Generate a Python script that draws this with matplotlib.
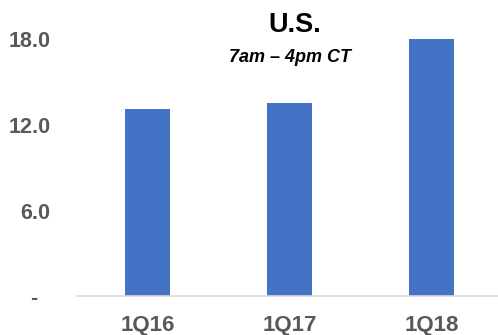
import matplotlib.pyplot as plt

quarters = ['1Q16', '1Q17', '1Q18']
volumes = [13.1, 13.5, 18.0]
yticks = [0, 6, 12, 18]
ytick_labels = ['-  ', '6.0', '12.0', '18.0']

plt.rcParams['font.family'] = ['Liberation Sans', 'DejaVu Sans']

fig = plt.figure(figsize=(4.98, 3.35), dpi=100)
ax = fig.add_axes([0.1546, 0.115, 0.8544, 0.854])

x = range(len(quarters))
ax.bar(x, volumes, width=0.317, color='#4472C4', zorder=2)

ax.set_xlim(-0.5, 2.5)
ax.set_ylim(0, 20)
ax.set_xticks(list(x))
ax.set_xticklabels(quarters, fontsize=16, fontweight='bold', color='#595959')
ax.set_yticks(yticks)
ax.set_yticklabels(ytick_labels, fontsize=15.5, fontweight='bold', color='#595959')
ax.tick_params(axis='both', length=0)
ax.tick_params(axis='y', pad=19)
ax.tick_params(axis='x', pad=13)

for side in ['top', 'right', 'left']:
    ax.spines[side].set_visible(False)
ax.spines['bottom'].set_color('#d9d9d9')
ax.spines['bottom'].set_linewidth(1.2)

fig.text(0.591, 0.925, 'U.S.', ha='center', va='center',
         fontsize=19.5, fontweight='bold', color='black')
fig.text(0.582, 0.828, '7am \u2013 4pm CT', ha='center', va='center',
         fontsize=13, fontweight='bold', fontstyle='italic', color='black')

fig.savefig('out.png', dpi=100)
